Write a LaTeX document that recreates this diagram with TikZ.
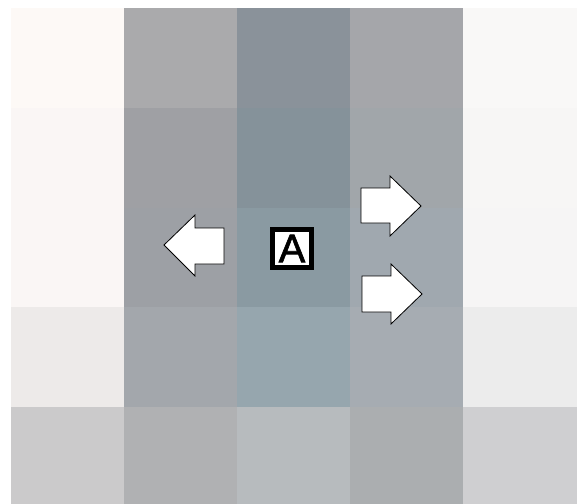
\documentclass[tikz,border=0pt]{standalone}
\usepackage{fontspec}
\setsansfont{Liberation Sans}
\newfontfamily\agentfont[FakeBold=1.6]{Liberation Sans}
\usepackage{xcolor}
\usetikzlibrary{positioning}

\begin{document}
\begin{tikzpicture}[x=0.03cm, y=-0.03cm,
    movearrow/.style={fill=white, draw=black, line width=0.7pt, line join=miter},
    agentbox/.style={draw=black, fill=white, line width=4.4pt, minimum size=33pt,
      inner sep=0pt, font=\agentfont\fontsize{34}{34}\selectfont}]
  \useasboundingbox (0,0) rectangle (577,504);
  \fill[white] (0,0) rectangle (577,504);
  % Row 1
  \foreach \x/\c in {11/FDF9F6,124/AAAAAC,237/8A929A,350/A5A6AA,463/F9F8F7}{
    \definecolor{cell}{HTML}{\c}
    \fill[cell] (\x,8) rectangle ++(114,100);
  }
  % Row 2
  \foreach \x/\c in {11/FAF6F5,124/9FA0A4,237/85929A,350/A1A6AA,463/F7F6F5}{
    \definecolor{cell}{HTML}{\c}
    \fill[cell] (\x,108) rectangle ++(114,100);
  }
  % Row 3
  \foreach \x/\c in {11/FAF6F5,124/9DA0A5,237/8A9AA2,350/A0A8AF,463/F6F5F5}{
    \definecolor{cell}{HTML}{\c}
    \fill[cell] (\x,208) rectangle ++(114,99);
  }
  % Row 4
  \foreach \x/\c in {11/EDEAE9,124/A3A7AC,237/96A6AE,350/A6ACB2,463/ECECEC}{
    \definecolor{cell}{HTML}{\c}
    \fill[cell] (\x,307) rectangle ++(114,100);
  }
  % Row 5
  \foreach \x/\c in {11/CBCACB,124/B0B1B3,237/B7BBBE,350/ABAEB0,463/CFCFD1}{
    \definecolor{cell}{HTML}{\c}
    \fill[cell] (\x,407) rectangle ++(114,97);
  }
  % Agent
  \node[agentbox] (agent) at (292,248.5) {A};
  % Moves
  \draw[movearrow] (164,245) -- (195,215) -- (195,228) -- (224,228) -- (224,264)
    -- (195,264) -- (195,276) -- cycle;
  \draw[movearrow] (361,188) -- (390,188) -- (390,176) -- (421,206) -- (390,236)
    -- (390,223) -- (361,223) -- cycle;
  \draw[movearrow] (362,276) -- (391,276) -- (391,264) -- (422,294) -- (391,324)
    -- (391,312) -- (362,312) -- cycle;
\end{tikzpicture}
\end{document}
